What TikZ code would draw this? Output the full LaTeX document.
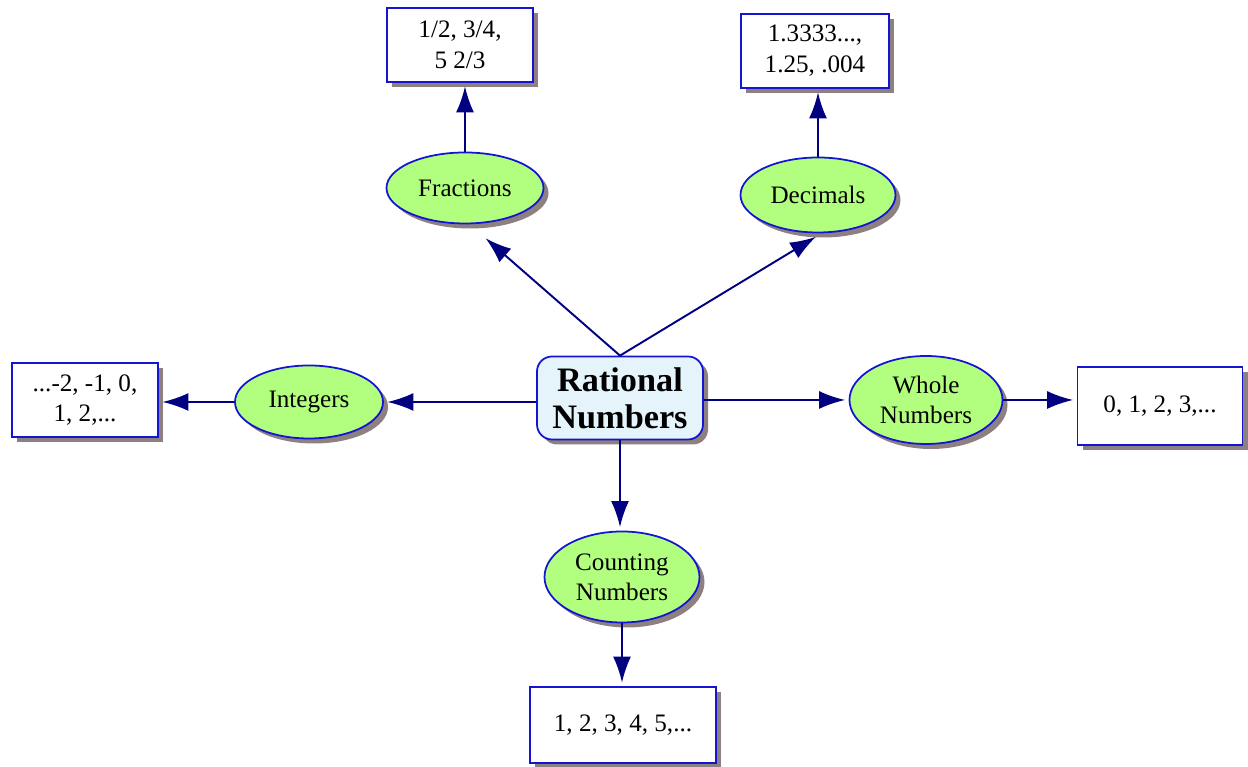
\documentclass[tikz,border=0pt]{standalone}
\usepackage{fontspec}
\setmainfont{Liberation Serif}
\usetikzlibrary{shapes.geometric,shadows,arrows.meta}

\definecolor{edgeblue}{RGB}{0,0,128}
\definecolor{rimblue}{RGB}{20,20,210}
\definecolor{leafgreen}{RGB}{178,255,128}
\definecolor{paleblue}{RGB}{228,244,250}
\definecolor{shadowgray}{RGB}{140,128,128}

\begin{document}
\begin{tikzpicture}[
  myshadow/.style={drop shadow={shadow xshift=0.1cm,shadow yshift=-0.1cm,fill=shadowgray,opacity=1}},
  kind/.style={ellipse,draw=rimblue,line width=1pt,fill=leafgreen,myshadow,inner sep=0pt,
    align=center,font=\fontsize{14.3}{17}\selectfont},
  example/.style={rectangle,draw=rimblue,line width=1pt,fill=white,myshadow,inner sep=0pt,
    align=center,font=\fontsize{14.3}{17.5}\selectfont},
  link/.style={draw=edgeblue,line width=1.1pt,-{Latex[length=0.52cm,width=0.36cm]},shorten >=2pt}]
\useasboundingbox (0,0) rectangle (24.96,15.34);

% the centre
\node[rectangle,rounded corners=0.3cm,draw=rimblue,line width=1pt,fill=paleblue,myshadow,
  minimum width=3.32cm,minimum height=1.66cm,align=center,
  font=\fontsize{19.5}{21}\selectfont\bfseries] (rat) at (12.4,7.38) {Rational\\Numbers};

% the kinds of numbers
\node[kind,minimum width=3.14cm,minimum height=1.42cm] (frac) at (9.3,11.58) {Fractions};
\node[kind,minimum width=3.1cm,minimum height=1.5cm] (dec) at (16.36,11.44) {Decimals};
\node[kind,minimum width=2.96cm,minimum height=1.46cm] (int) at (6.18,7.3) {Integers};
\node[kind,minimum width=3.06cm,minimum height=1.76cm] (whole) at (18.52,7.34) {Whole\\Numbers};
\node[kind,minimum width=3.1cm,minimum height=1.82cm] (count) at (12.44,3.8) {Counting\\Numbers};

% the examples
\node[example,minimum width=2.92cm,minimum height=1.48cm] (fracex) at (9.2,14.44) {1/2, 3/4,\\5 2/3};
\node[example,minimum width=2.96cm,minimum height=1.48cm] (decex) at (16.3,14.32) {1.3333...,\\1.25, .004};
\node[example,minimum width=2.92cm,minimum height=1.48cm] (intex) at (1.7,7.34) {...-2, -1, 0,\\1, 2,...};
\node[example,minimum width=3.3cm,minimum height=1.56cm] (wholeex) at (23.2,7.22) {0, 1, 2, 3,...};
\node[example,minimum width=3.72cm,minimum height=1.52cm] (countex) at (12.46,0.84) {1, 2, 3, 4, 5,...};

% where the slanted arrows stop
\coordinate (fractip) at (9.66,10.62);
\coordinate (dectip) at (16.38,10.64);

% arrows
\draw[link] (rat.north) -- (fractip);
\draw[link] (rat.north) -- (dectip);
\draw[link] (rat.west |- int) -- (int);
\draw[link] (rat.east |- whole) -- (whole);
\draw[link] (rat.south) -- (rat.south |- count.north);
\draw[link] (frac.north) -- (frac.north |- fracex.south);
\draw[link] (dec.north) -- (dec.north |- decex.south);
\draw[link] (int.west) -- (intex.east |- int.west);
\draw[link] (whole.east) -- (wholeex.west |- whole.east);
\draw[link] (count.south) -- (count.south |- countex.north);
\end{tikzpicture}
\end{document}
